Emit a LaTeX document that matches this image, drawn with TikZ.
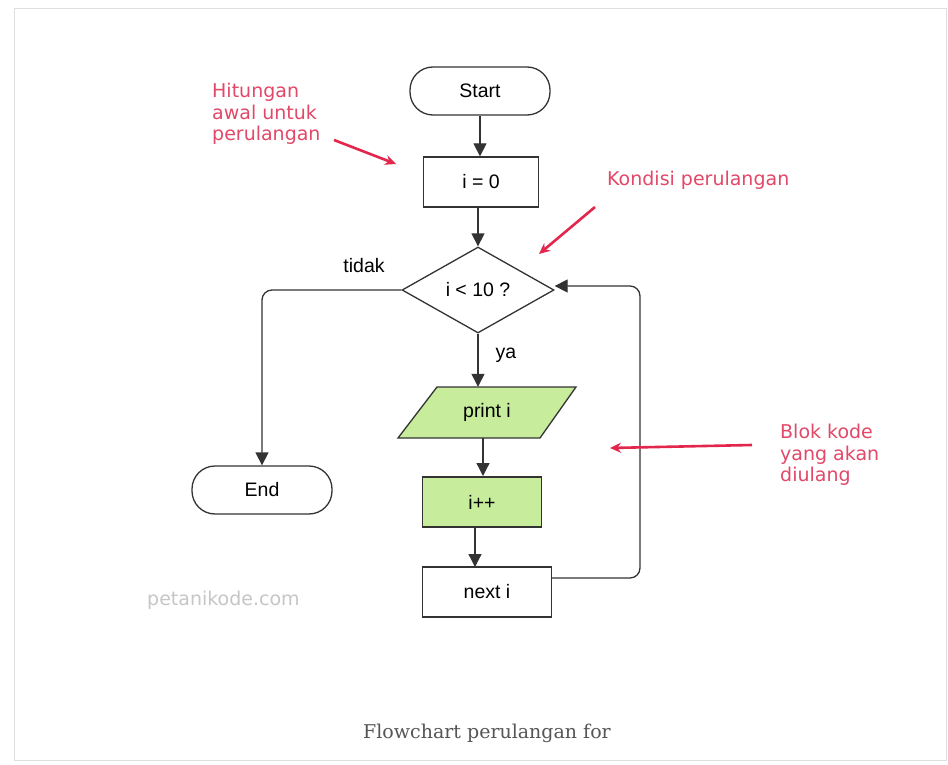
\documentclass[tikz,border=0pt]{standalone}
\usepackage{fontspec}
\setmainfont{Liberation Sans}
\newfontfamily\annofont{DejaVu Sans}
\newfontfamily\capfont{DejaVu Serif}
\usetikzlibrary{shapes.geometric,arrows.meta}
\definecolor{ln}{HTML}{333333}
\definecolor{grn}{HTML}{C6EC9C}
\definecolor{redarr}{HTML}{E3264C}
\definecolor{redtxt}{HTML}{E24868}
\definecolor{captxt}{HTML}{555555}
\tikzset{
  dfont/.style={font=\fontsize{19.5}{22}\selectfont},
  box/.style={draw=ln, line width=1.3pt, minimum width=#1, minimum height=50pt, inner sep=0pt, dfont},
  term/.style={draw=ln, line width=1.3pt, rounded corners=23pt, minimum width=140pt, minimum height=48pt, dfont},
  flow/.style={draw=ln, line width=1.3pt, -{Triangle[width=13pt,length=13pt]}},
  redarrow/.style={draw=redarr, line width=2.6pt, -{Stealth[length=11pt,width=10pt]}},
  anno/.style={text=redtxt, font=\annofont\fontsize{19}{21.5}\selectfont, align=left, inner sep=0pt},
  lbl/.style={dfont, inner sep=0pt}
}
\begin{document}
\begin{tikzpicture}[x=1pt,y=-1pt]
\useasboundingbox (0,0) rectangle (948,765);
\fill[white] (0,0) rectangle (948,765);
\draw[gray!25, line width=1pt] (14,9) rectangle (946,760);

% nodes
\node[term] (start) at (480,91) {Start};
\node[box=115pt] (init) at (481,182) {i = 0};
\node[draw=ln, line width=1.3pt, shape=diamond, aspect=1.77, minimum width=152pt, minimum height=86pt, inner sep=0pt, dfont] (dia) at (478,290) {i < 10 ?};
\filldraw[draw=ln, fill=grn, line width=1.3pt] (437,387) -- (576,387) -- (540,438) -- (398,438) -- cycle;
\node[minimum width=100pt, minimum height=51pt, inner sep=0pt, dfont] (print) at (487,412.5) {print i};
\node[box=119pt, fill=grn] (inc) at (482,502) {i++};
\node[box=129pt] (next) at (487,592) {next i};
\node[term] (end) at (262,490) {End};

% connectors
\draw[flow] (start.south) -- (start.south |- init.north);
\draw[flow] (dia.north |- init.south) -- (dia.north);
\draw[flow] (dia.south) -- (dia.south |- print.north);
\draw[flow] (print.south -| 483,0) -- (483,476);
\draw[flow] (inc.south -| 475,0) -- (475,567);
\coordinate (loopx) at (640,430);
\draw[flow, rounded corners=10pt] ([yshift=14pt]next.east) -| (loopx) |- ([yshift=4pt]dia.east);
\draw[flow, rounded corners=10pt] (dia.west) -| (end.north);

\node[lbl] (tidak) at (364,266) {tidak};
\node[lbl] (ya) at (506,355) {ya};

% annotations
\node[anno, anchor=north west] (a1) at (212,83) {Hitungan\\awal untuk\\perulangan};
\coordinate (a1s) at (334,140);
\coordinate (a1e) at (396,164);
\draw[redarrow] (a1s) -- (a1e);

\node[anno, anchor=west] (a2) at (607,180) {Kondisi perulangan};
\coordinate (a2s) at (595,207);
\coordinate (a2e) at (539,254);
\draw[redarrow] (a2s) -- (a2e);

\node[anno, anchor=north west] (a3) at (780,424) {Blok kode\\yang akan\\diulang};
\coordinate (a3s) at (752,445);
\coordinate (a3e) at (610,448);
\draw[redarrow] (a3s) -- (a3e);

\node[text=gray!45, font=\annofont\fontsize{19}{22}\selectfont, anchor=west, inner sep=0pt] (wm) at (147,600) {petanikode.com};
\node[text=captxt, font=\capfont\fontsize{19}{22}\selectfont, inner sep=0pt] (cap) at (487,733) {Flowchart perulangan for};
\end{tikzpicture}
\end{document}
